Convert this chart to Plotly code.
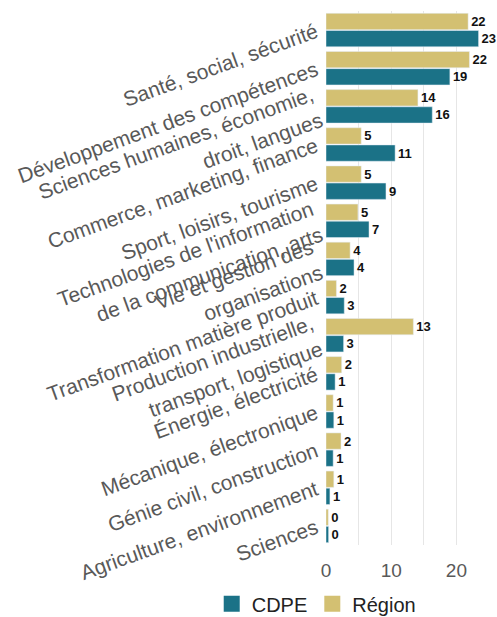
import plotly.graph_objects as go

categories = [
    "Santé, social, sécurité",
    "Développement des compétences",
    "Sciences humaines, économie,<br>droit, langues",
    "Commerce, marketing, finance",
    "Sport, loisirs, tourisme",
    "Technologies de l'information<br>de la communication, arts",
    "Vie et gestion des<br>organisations",
    "Transformation matière produit",
    "Production industrielle,<br>transport, logistique",
    "Énergie, électricité",
    "Mécanique, électronique",
    "Génie civil, construction",
    "Agriculture, environnement",
    "Sciences",
]
cdpe = [23.4, 19.0, 16.3, 10.6, 9.2, 6.6, 4.3, 2.8, 2.7, 1.4, 1.2, 1.1, 0.6, 0.4]
region = [21.8, 22.0, 14.1, 5.4, 5.4, 4.9, 3.7, 1.6, 13.4, 2.4, 1.1, 2.3, 1.2, 0.35]
series_names = ["CDPE", "Région"]

C_CDPE = "#1b7287"
C_REG = "#d3c072"
colors = [C_CDPE, C_REG]

fig = go.Figure()
for name, vals, col in zip(series_names, [cdpe, region], colors):
    fig.add_trace(go.Bar(
        y=categories, x=vals, name=name, orientation="h",
        marker=dict(color=col), showlegend=False,
        texttemplate="%{x:.0f}", textposition="outside",
        textfont=dict(family="Liberation Sans, Arial", size=13, color="#111111", weight="bold"),
        cliponaxis=False, constraintext="none",
    ))
# legend entries with larger square swatches
for name, col in zip(series_names, colors):
    fig.add_trace(go.Scatter(
        x=[None], y=[None], mode="markers", name=name,
        marker=dict(symbol="square", size=16, color=col),
    ))

fig.update_layout(
    width=497, height=617,
    margin=dict(l=326, r=8, t=11, b=72, autoexpand=False),
    paper_bgcolor="white", plot_bgcolor="white",
    barmode="group", bargap=0.1, bargroupgap=0.05,
    hovermode=False,
    font=dict(family="Liberation Sans, Arial", color="#595959"),
    legend=dict(
        orientation="h", x=-0.06, xanchor="center", y=-0.11, yanchor="middle",
        font=dict(size=20, color="#222222"), traceorder="normal",
    ),
    xaxis=dict(
        range=[0, 25], dtick=10, tick0=0, showgrid=True, gridcolor="#e6e6e6",
        minor=dict(dtick=5, showgrid=True, gridcolor="#e6e6e6"),
        zeroline=False, showline=False, ticks="", automargin=False,
        ticklabelstandoff=12,
        tickfont=dict(size=19, color="#595959"),
    ),
    yaxis=dict(
        type="category", categoryorder="array", categoryarray=categories[::-1],
        tickangle=-20, tickfont=dict(size=21, color="#595959"), automargin=False,
        ticklabelstandoff=9,
        showgrid=False, zeroline=False, showline=False, ticks="",
    ),
)

fig.write_html(
    "out.html",
    config={"displayModeBar": False},
    post_script="document.body.style.margin='0';document.body.style.overflow='hidden';",
)
